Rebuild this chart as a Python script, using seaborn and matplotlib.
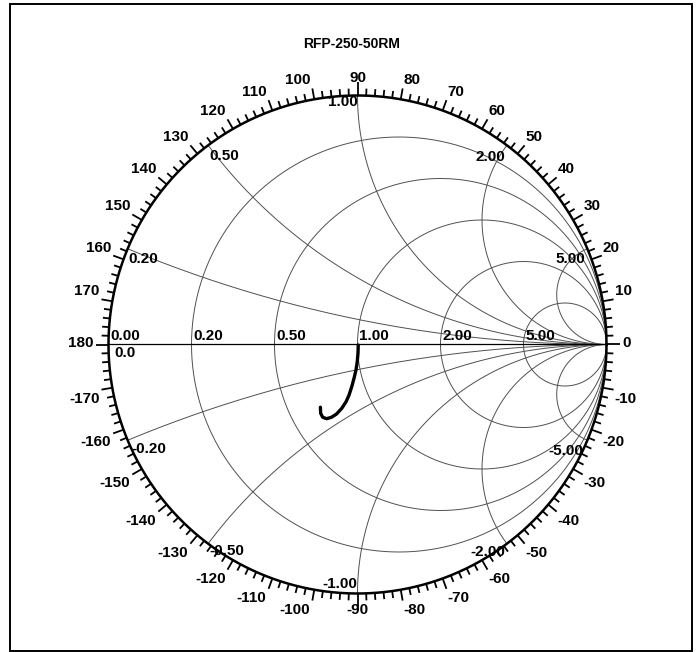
import numpy as np
import pandas as pd
import matplotlib
matplotlib.use('Agg')
import matplotlib.pyplot as plt
import seaborn as sns
from matplotlib.patches import Rectangle

# chart data
title = 'RFP-250-50RM'

s11_re = [0.003, 0.002, -0.001, -0.006, -0.014, -0.023, -0.034, -0.046,
          -0.063, -0.084, -0.104, -0.124, -0.140, -0.148, -0.149]
s11_im = [-0.002, -0.035, -0.069, -0.102, -0.136, -0.169, -0.203, -0.230,
          -0.256, -0.279, -0.292, -0.298, -0.292, -0.276, -0.252]

# normalized resistance circles and reactance arcs
r_values = [0.0, 0.2, 0.5, 1.0, 2.0, 5.0]
r_labels = ['0.00', '0.20', '0.50', '1.00', '2.00', '5.00']
x_values = [0.2, 0.5, 1.0, 2.0, 5.0, -0.2, -0.5, -1.0, -2.0, -5.0]
x_labels = ['0.20', '0.50', '1.00', '2.00', '5.00',
            '-0.20', '-0.50', '-1.00', '-2.00', '-5.00']

# angle scale around the rim (degrees)
angle_labels = list(range(-170, 190, 10))

# label placement for reactance labels: (ha, va, dx px, dy px)
x_label_style = {
    '0.20': ('left', 'top', 1, -3), '0.50': ('left', 'top', 1, -4),
    '1.00': ('right', 'top', 0, 0), '2.00': ('right', 'top', -2, -5),
    '5.00': ('right', 'top', -2, -3), '-0.20': ('left', 'top', 4, -2),
    '-0.50': ('left', 'top', 1, 0), '-1.00': ('right', 'bottom', 0, 2),
    '-2.00': ('right', 'top', -2, -1), '-5.00': ('right', 'top', -4, -4),
}

sns.set_theme(style='white')
plt.rcParams['font.family'] = ['Liberation Sans', 'DejaVu Sans']
plt.rcParams['font.weight'] = 'bold'

FS = 11
RAD = 249.0          # chart radius in pixels
PX = 1.0 / RAD       # one pixel in data units
grid_c = '#505050'


def tick_len(a):
    if a % 90 == 0:
        return 13
    if a % 10 == 0:
        return 11
    return 7


fig = plt.figure(figsize=(6.96, 6.52), dpi=100)
ax = fig.add_axes([0, 0, 1, 1])
ax.set_xlim(-1 - 108.5 / RAD, -1 + (696 - 108.5) / RAD)
ax.set_ylim(-1 - (652 - 593.5) / RAD, 1 + 95.5 / RAD)
ax.axis('off')

t = np.linspace(0, 2 * np.pi, 1441)

# resistance circles
for r in r_values[1:]:
    c = r / (1 + r)
    rr = 1 / (1 + r)
    ax.plot(c + rr * np.cos(t), rr * np.sin(t), color=grid_c, lw=0.7)

# reactance arcs, clipped to the unit circle
for xv in x_values:
    t0 = np.pi / 2 if xv > 0 else -np.pi / 2
    tt = np.linspace(t0, t0 + 2 * np.pi, 4001)
    px = 1 + np.cos(tt) / abs(xv)
    py = 1 / xv + np.sin(tt) / abs(xv)
    inside = px ** 2 + py ** 2 <= 1.0 + 1e-9
    px = np.where(inside, px, np.nan)
    py = np.where(inside, py, np.nan)
    ax.plot(px, py, color=grid_c, lw=0.7)

# real axis and rim
ax.plot([-1, 1], [0, 0], color='black', lw=0.9)
ax.plot(np.cos(t), np.sin(t), color='black', lw=1.8)

# rim ticks every 2 degrees
for a in range(-180, 180, 2):
    ln = tick_len(a)
    ca, sa = np.cos(np.radians(a)), np.sin(np.radians(a))
    ax.plot([ca, ca * (1 + ln * PX)], [sa, sa * (1 + ln * PX)],
            color='black', lw=1.3, solid_capstyle='butt')

# angle labels, anchored at the tick end by quadrant
for a in angle_labels:
    ca, sa = np.cos(np.radians(a)), np.sin(np.radians(a))
    ca = 0.0 if abs(ca) < 1e-9 else ca
    sa = 0.0 if abs(sa) < 1e-9 else sa
    ln = tick_len(a)
    tx, ty = ca * (1 + ln * PX), sa * (1 + ln * PX)
    if ca > 0:
        ha, dx = 'left', 1
    elif ca < 0:
        ha, dx = 'right', -2
    else:
        ha, dx = 'center', 0
    if sa > 0:
        va, dy = 'bottom', (1 if ca != 0 else -3)
    elif sa < 0:
        va, dy = 'top', (-2 if ca != 0 else 3)
    else:
        va, dy = 'center', 1
        dx = 3 if ca > 0 else -2
    ax.text(tx + dx * PX, ty + dy * PX, str(a), ha=ha, va=va, fontsize=FS,
            fontweight='bold', color='black')

# resistance labels
for r, lab in zip(r_values, r_labels):
    g = (r - 1) / (r + 1)
    ax.text(g + 2 * PX, 1 * PX, lab, ha='left', va='bottom', fontsize=FS,
            fontweight='bold', color='black')
ax.text(-1 + 6 * PX, -2 * PX, '0.0', ha='left', va='top', fontsize=FS,
        fontweight='bold', color='black')

# reactance labels
for xv, lab in zip(x_values, x_labels):
    gx = (xv ** 2 - 1) / (xv ** 2 + 1)
    gy = 2 * xv / (xv ** 2 + 1)
    ha, va, dx, dy = x_label_style[lab]
    ax.text(gx + dx * PX, gy + dy * PX, lab, ha=ha, va=va, fontsize=FS,
            fontweight='bold', color='black')

# measured trace
df = pd.DataFrame({'re': s11_re, 'im': s11_im})
sns.lineplot(data=df, x='re', y='im', sort=False, estimator=None,
             color='black', lw=2.4, ax=ax, solid_capstyle='round')
ax.set_xlabel('')
ax.set_ylabel('')

# title and frame
fig.text(352 / 696, 1 - 44 / 652, title, ha='center', va='center',
         fontsize=10, fontweight='bold', color='black')
fig.patches.append(Rectangle((10 / 696, 1 / 652), 682 / 696, 647 / 652,
                             transform=fig.transFigure, fill=False,
                             edgecolor='black', lw=1.4))

fig.savefig('out.png', dpi=100, facecolor='white')
